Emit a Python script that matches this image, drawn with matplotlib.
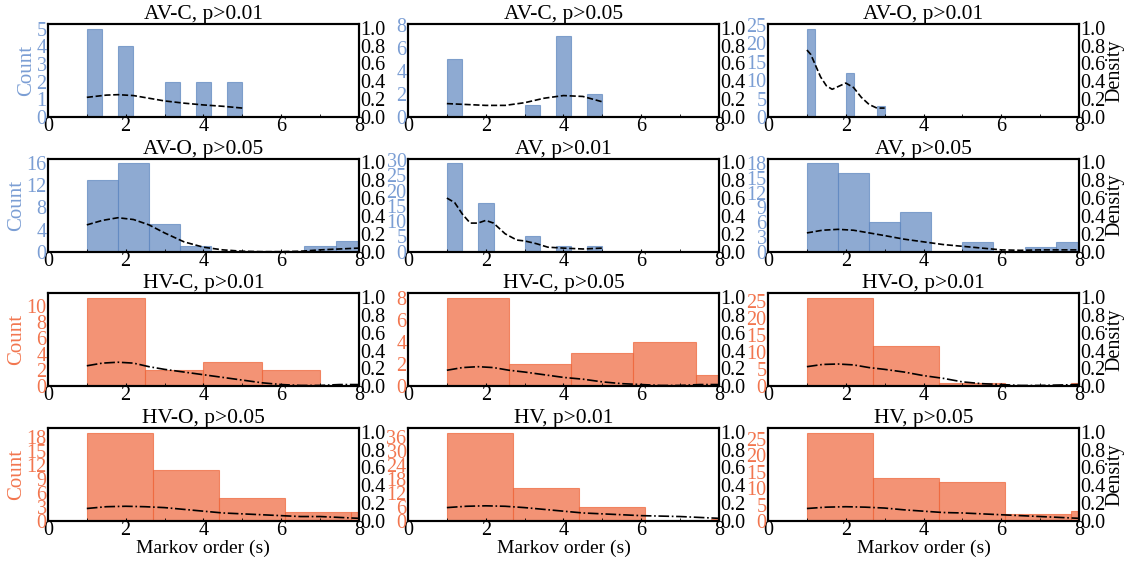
import numpy as np
import matplotlib
matplotlib.use("Agg")
import matplotlib.pyplot as plt
from matplotlib.ticker import MultipleLocator, FormatStrFormatter

plt.rcParams["font.family"] = ["Liberation Serif", "DejaVu Serif"]

titles = ["AV-C, p>0.01", "AV-C, p>0.05", "AV-O, p>0.01",
          "AV-O, p>0.05", "AV, p>0.01", "AV, p>0.05",
          "HV-C, p>0.01", "HV-C, p>0.05", "HV-O, p>0.01",
          "HV-O, p>0.05", "HV, p>0.01", "HV, p>0.05"]

# markov order values and how many times each occurs
values = [
    [1, 2, 3, 4, 5],
    [1, 3, 4, 5],
    [1, 2, 3],
    [1, 2, 3, 4, 7, 8, 9],
    [1, 2, 3, 4, 5],
    [1, 2, 3, 4, 5, 7, 8, 9],
    [1, 2, 3, 4, 5, 6, 10],
    [1, 2, 3, 4, 5, 6, 7, 9],
    [1, 2, 3, 4, 5, 9.5],
    [1, 2, 3, 4, 5, 6, 7, 8, 9.5],
    [1, 2, 3, 4, 5, 6, 9.5],
    [1, 2, 3, 4, 5, 6, 7, 8, 9.5],
]
counts = [
    [5, 4, 2, 2, 2],
    [5, 1, 7, 2],
    [24, 12, 3],
    [13, 16, 5, 1, 1, 2, 1],
    [29, 16, 5, 2, 2],
    [18, 16, 6, 8, 2, 1, 2, 1],
    [6, 5, 2, 2, 1, 2, 1],
    [4, 4, 1, 1, 3, 2, 2, 1],
    [14, 12, 8, 4, 1, 1],
    [10, 9, 6, 5, 3, 2, 2, 1, 1],
    [20, 18, 9, 5, 4, 2, 1],
    [14, 13, 8, 5, 7, 5, 2, 2, 1],
]
nbins = [10, 10, 10, 10, 10, 10, 6, 5, 5, 5, 5, 5]
count_step = [1, 2, 5, 4, 5, 3, 2, 2, 5, 3, 6, 5]
count_top = [None, 8.05, None, None, None, None, None, None, None, None, None, None]

# density curve
kde_x = [
    [1, 1.5, 1.8, 2.2, 2.6, 3, 3.5, 4, 4.5, 5],
    [1, 1.5, 2, 2.5, 3, 3.5, 4, 4.5, 5],
    [1, 1.1, 1.2, 1.35, 1.5, 1.65, 1.8, 2.0, 2.2, 2.4, 2.6, 2.8, 3.0],
    [1, 1.4, 1.8, 2.2, 2.6, 3, 3.5, 4, 4.5, 5, 5.5, 6, 6.5, 7, 7.5, 8],
    [1, 1.2, 1.4, 1.6, 1.8, 2.0, 2.2, 2.5, 2.8, 3.0, 3.3, 3.6, 4, 4.5, 5],
    [1, 1.4, 1.8, 2.2, 2.6, 3, 3.5, 4, 4.5, 5, 5.5, 6, 6.5, 7, 7.5, 8],
    [1, 1.4, 1.8, 2.2, 2.6, 3, 3.5, 4, 4.5, 5, 5.5, 6, 6.5, 7, 7.5, 8],
    [1, 1.4, 1.8, 2.2, 2.6, 3, 3.5, 4, 4.5, 5, 5.5, 6, 6.5, 7, 7.5, 8],
    [1, 1.4, 1.8, 2.2, 2.6, 3, 3.5, 4, 4.5, 5, 5.5, 6, 6.5, 7, 7.5, 8],
    [1, 1.5, 2, 2.5, 3, 3.5, 4, 4.5, 5, 5.5, 6, 6.5, 7, 7.5, 8],
    [1, 1.5, 2, 2.5, 3, 3.5, 4, 4.5, 5, 5.5, 6, 6.5, 7, 7.5, 8],
    [1, 1.5, 2, 2.5, 3, 3.5, 4, 4.5, 5, 5.5, 6, 6.5, 7, 7.5, 8],
]
kde_y = [
    [0.22, 0.245, 0.25, 0.24, 0.21, 0.18, 0.155, 0.135, 0.12, 0.10],
    [0.15, 0.14, 0.13, 0.13, 0.16, 0.21, 0.24, 0.23, 0.17],
    [0.75, 0.70, 0.60, 0.45, 0.35, 0.31, 0.34, 0.38, 0.33, 0.22, 0.14, 0.10, 0.10],
    [0.30, 0.35, 0.38, 0.36, 0.30, 0.21, 0.11, 0.05, 0.02, 0.005, 0.0, 0.0, 0.005, 0.02, 0.03, 0.04],
    [0.60, 0.55, 0.42, 0.32, 0.32, 0.35, 0.32, 0.20, 0.13, 0.12, 0.09, 0.05, 0.04, 0.03, 0.04],
    [0.21, 0.24, 0.25, 0.24, 0.21, 0.18, 0.14, 0.11, 0.08, 0.06, 0.04, 0.02, 0.015, 0.02, 0.02, 0.02],
    [0.23, 0.26, 0.27, 0.26, 0.22, 0.19, 0.16, 0.13, 0.10, 0.07, 0.04, 0.02, 0.01, 0.01, 0.02, 0.02],
    [0.18, 0.21, 0.22, 0.21, 0.18, 0.16, 0.13, 0.10, 0.08, 0.05, 0.03, 0.02, 0.01, 0.01, 0.02, 0.02],
    [0.22, 0.245, 0.25, 0.24, 0.21, 0.19, 0.16, 0.12, 0.09, 0.05, 0.03, 0.02, 0.01, 0.01, 0.015, 0.02],
    [0.14, 0.16, 0.165, 0.16, 0.15, 0.13, 0.11, 0.09, 0.08, 0.07, 0.06, 0.05, 0.05, 0.04, 0.03],
    [0.15, 0.165, 0.17, 0.165, 0.15, 0.13, 0.11, 0.09, 0.08, 0.07, 0.06, 0.055, 0.05, 0.04, 0.03],
    [0.14, 0.155, 0.16, 0.155, 0.145, 0.125, 0.11, 0.095, 0.09, 0.08, 0.07, 0.06, 0.05, 0.04, 0.03],
]

BLUE, BLUE_TXT = "#5F87C0", "#7B9ED4"
ORANGE, ORANGE_TXT = "#EF663B", "#F2764F"

fig, axes = plt.subplots(4, 3, figsize=(11.31, 5.61), dpi=100)
fig.subplots_adjust(left=0.0424, right=0.954, bottom=0.0713, top=0.957,
                    wspace=0.158, hspace=0.45)

for i, ax in enumerate(axes.flat):
    row, col = divmod(i, 3)
    is_av = row < 2
    c = BLUE if is_av else ORANGE
    ct = BLUE_TXT if is_av else ORANGE_TXT
    sample = np.repeat(values[i], counts[i])
    ax.hist(sample, bins=nbins[i], color=c, alpha=0.7, edgecolor=c, linewidth=0.8)
    ax.set_xlim(0, 8)
    if count_top[i] is not None:
        ax.set_ylim(0, count_top[i])
    ax.yaxis.set_major_locator(MultipleLocator(count_step[i]))
    ax.xaxis.set_major_locator(MultipleLocator(2))
    ax.xaxis.set_minor_locator(MultipleLocator(1))
    ax.tick_params(axis="y", colors=ct, labelsize=14.5, length=0, pad=1)
    ax.tick_params(axis="x", which="major", labelsize=14.5, direction="in", length=2, pad=0)
    ax.tick_params(axis="x", which="minor", direction="in", length=2)
    ax.set_title(titles[i], fontsize=15.5, pad=1)
    for s in ax.spines.values():
        s.set_linewidth(1.5)
    if col == 0:
        ax.set_ylabel("Count", color=ct, fontsize=15, labelpad=0)
    if row == 3:
        ax.set_xlabel("Markov order (s)", fontsize=14, labelpad=0)

    ax2 = ax.twinx()
    ls = "--" if is_av else "-."
    ax2.plot(kde_x[i], kde_y[i], color="black", linestyle=ls, linewidth=1.2)
    ax2.set_ylim(0, 1.04)
    ax2.yaxis.set_major_locator(MultipleLocator(0.2))
    ax2.yaxis.set_major_formatter(FormatStrFormatter("%.1f"))
    ax2.tick_params(axis="y", labelsize=14.5, length=0, pad=1)
    for s in ax2.spines.values():
        s.set_linewidth(1.5)
    if col == 2:
        ax2.set_ylabel("Density", fontsize=14.5, labelpad=0)

fig.savefig("out.png", dpi=100)
